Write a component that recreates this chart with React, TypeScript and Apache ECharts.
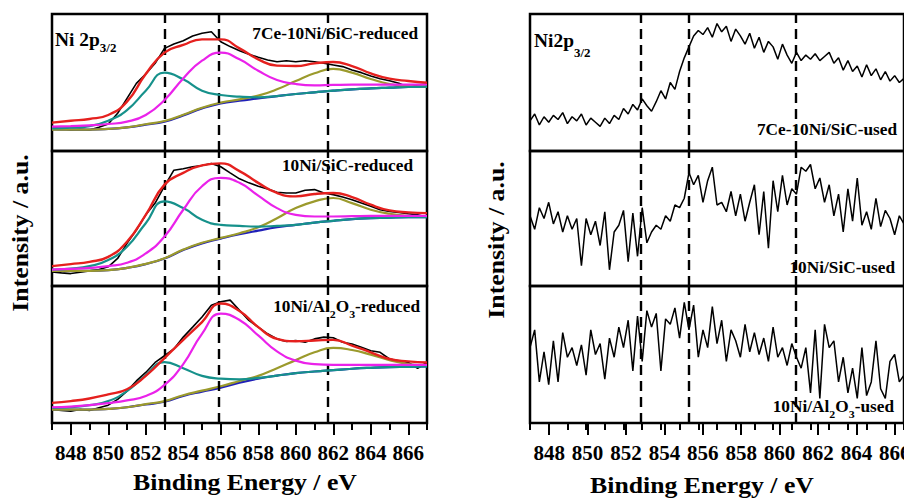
import React, { useEffect, useRef } from "react";
import * as echarts from "echarts";

const FONT = "'Liberation Serif', 'Times New Roman', serif";

// Binding energy grids (eV)
const X_MIN = 847;
const X_MAX = 867;
const X_FIT = [847, 848, 849, 850, 851, 852, 853, 854, 855, 856, 857, 858, 859, 860, 861, 862, 863, 864, 865, 866, 867];
const X_RAW = [847, 847.5, 848, 848.5, 849, 849.5, 850, 850.5, 851, 851.5, 852, 852.5, 853, 853.5, 854, 854.5, 855, 855.5, 856, 856.5, 857, 857.5, 858, 858.5, 859, 859.5, 860, 860.5, 861, 861.5, 862, 862.5, 863, 863.5, 864, 864.5, 865, 865.5, 866, 866.5, 867];
const X_USED = [847, 847.25, 847.5, 847.75, 848, 848.25, 848.5, 848.75, 849, 849.25, 849.5, 849.75, 850, 850.25, 850.5, 850.75, 851, 851.25, 851.5, 851.75, 852, 852.25, 852.5, 852.75, 853, 853.25, 853.5, 853.75, 854, 854.25, 854.5, 854.75, 855, 855.25, 855.5, 855.75, 856, 856.25, 856.5, 856.75, 857, 857.25, 857.5, 857.75, 858, 858.25, 858.5, 858.75, 859, 859.25, 859.5, 859.75, 860, 860.25, 860.5, 860.75, 861, 861.25, 861.5, 861.75, 862, 862.25, 862.5, 862.75, 863, 863.25, 863.5, 863.75, 864, 864.25, 864.5, 864.75, 865, 865.25, 865.5, 865.75, 866, 866.25, 866.5, 866.75, 867];

const TICK_LABELS = [848, 850, 852, 854, 856, 858, 860, 862, 864, 866];
const DASH_REDUCED = [853.0, 855.9, 861.7];
const DASH_USED = [852.9, 855.5, 861.2];

// 7Ce-10Ni/SiC-reduced
const RAW_A = [17.3, 16.5, 15.3, 15.8, 15.3, 17.3, 19.7, 27.5, 38.4, 49.4, 56.2, 64.0, 74.9, 78.1, 80.5, 83.9, 85.9, 87.1, 79.8, 76.2, 73.2, 70.6, 68.4, 66.4, 65.2, 65.9, 65.2, 65.9, 65.2, 64.0, 62.8, 61.6, 59.1, 57.2, 54.7, 52.8, 51.3, 49.4, 46.5, 48.2, 48.9];
const ENV_A = [20.7, 22.1, 23.4, 26.3, 36.0, 56.2, 71.8, 77.4, 81.5, 81.5, 74.9, 66.9, 62.3, 62.0, 64.0, 65.0, 62.0, 56.7, 52.8, 51.1, 49.9];
const P1_A = [16.5, 17.0, 18.2, 22.1, 29.9, 44.0, 57.2, 52.3, 44.0, 40.9, 39.7, 39.2, 40.1, 41.6, 42.8, 44.0, 45.0, 45.7, 46.2, 46.7, 47.0];
const P2_A = [17.8, 18.2, 18.7, 19.7, 21.4, 26.3, 37.2, 53.0, 65.9, 71.8, 66.9, 58.6, 51.8, 48.9, 47.9, 48.2, 48.4, 48.4, 48.4, 48.4, 48.7];
const SAT_A = [15.6, 15.6, 15.6, 16.1, 17.3, 19.5, 21.9, 26.5, 31.6, 35.3, 37.7, 40.4, 45.0, 51.1, 56.7, 59.9, 57.2, 52.6, 48.9, 47.4, 47.0];
const BG_A = [15.8, 15.6, 15.6, 16.1, 17.3, 19.2, 21.4, 26.0, 31.1, 34.8, 36.7, 38.4, 40.1, 41.6, 42.8, 44.0, 45.0, 45.7, 46.2, 46.7, 47.0];

// 10Ni/SiC-reduced
const RAW_B = [10.4, 9.7, 9.2, 10.2, 11.2, 12.2, 14.2, 20.4, 31.6, 41.5, 52.7, 61.4, 73.9, 85.8, 86.8, 88.3, 89.3, 90.8, 88.3, 83.8, 79.4, 76.4, 73.9, 71.9, 69.4, 68.9, 68.9, 70.9, 71.4, 68.9, 67.7, 65.9, 63.9, 61.4, 59.0, 56.5, 55.2, 54.5, 53.5, 52.7, 51.0];
const ENV_B = [14.7, 16.2, 17.9, 21.6, 32.8, 52.7, 75.1, 83.8, 89.3, 90.8, 85.1, 76.4, 68.9, 66.4, 68.2, 68.9, 65.9, 60.2, 56.0, 54.5, 54.0];
const P1_B = [12.2, 12.9, 14.7, 19.2, 29.1, 46.5, 62.7, 57.7, 49.0, 45.3, 44.5, 44.0, 44.5, 45.3, 47.0, 48.3, 49.5, 50.2, 50.7, 51.0, 51.0];
const P2_B = [12.2, 12.7, 13.4, 14.7, 17.2, 24.1, 36.6, 56.5, 73.9, 80.1, 76.4, 66.9, 57.7, 52.7, 51.5, 51.5, 51.7, 52.0, 52.0, 52.0, 52.0];
const SAT_B = [11.2, 11.2, 11.2, 11.7, 13.4, 16.4, 20.6, 27.0, 32.0, 35.6, 39.1, 43.5, 50.2, 57.7, 62.7, 65.2, 61.4, 56.5, 53.5, 52.0, 51.5];
const BG_B = [11.2, 11.2, 11.2, 11.7, 13.4, 16.2, 20.4, 26.6, 31.6, 35.1, 38.3, 41.0, 43.5, 45.3, 47.0, 48.3, 49.5, 50.2, 50.7, 51.0, 51.0];

// 10Ni/Al2O3-reduced
const RAW_C = [9.8, 9.1, 8.6, 9.8, 9.1, 11.1, 13.0, 17.2, 23.3, 30.7, 36.9, 44.2, 49.1, 54.1, 62.7, 70.0, 77.4, 86.0, 88.5, 89.7, 82.3, 74.9, 70.0, 65.1, 61.4, 59.5, 60.2, 59.0, 61.4, 62.7, 62.2, 59.0, 57.7, 55.3, 52.8, 51.6, 46.7, 45.5, 44.2, 40.0, 44.2];
const ENV_C = [14.7, 16.0, 17.9, 20.9, 24.6, 34.4, 47.4, 60.7, 73.7, 87.2, 81.8, 70.0, 61.4, 59.7, 60.2, 60.7, 56.5, 51.6, 46.7, 45.0, 44.2];
const P1_C = [11.1, 11.5, 13.0, 16.0, 23.3, 34.9, 44.5, 40.0, 34.4, 32.4, 31.9, 32.9, 34.6, 36.4, 37.6, 38.6, 39.6, 40.3, 40.8, 41.0, 41.3];
const P2_C = [11.5, 12.0, 13.0, 14.5, 16.5, 19.7, 27.8, 43.0, 65.1, 79.9, 75.2, 63.9, 52.3, 45.5, 43.0, 42.5, 42.5, 42.5, 42.5, 42.5, 42.5];
const SAT_C = [9.8, 9.8, 9.8, 10.3, 11.5, 13.8, 16.0, 20.3, 23.6, 26.8, 30.7, 34.4, 40.0, 45.9, 51.6, 54.8, 53.3, 49.9, 45.9, 43.0, 41.8];
const BG_C = [9.8, 9.8, 9.8, 10.3, 11.5, 13.5, 15.5, 19.7, 22.9, 25.8, 29.5, 32.4, 34.6, 36.4, 37.6, 38.6, 39.6, 40.3, 40.8, 41.0, 41.3];

// used samples (raw spectra)
const USED_A = [22, 27, 19, 25, 21, 26, 23, 28, 20, 25, 22, 27, 19, 24, 21, 18, 24, 20, 26, 23, 31, 27, 34, 30, 38, 33, 29, 36, 44, 38, 50, 45, 58, 68, 76, 84, 88, 85, 90, 83, 93, 87, 91, 80, 89, 84, 78, 86, 75, 83, 72, 80, 76, 67, 78, 70, 64, 72, 66, 70, 67, 71, 66, 69, 72, 64, 68, 59, 66, 58, 62, 54, 63, 55, 60, 52, 58, 51, 55, 50, 53];
const USED_B = [52, 42, 58, 50, 62, 46, 55, 40, 52, 42, 50, 15, 50, 38, 48, 30, 55, 12, 40, 45, 56, 18, 54, 22, 58, 32, 40, 45, 42, 52, 48, 60, 58, 65, 84, 75, 82, 62, 78, 88, 60, 62, 55, 70, 52, 68, 48, 62, 75, 38, 70, 28, 78, 55, 82, 60, 72, 68, 88, 85, 90, 72, 80, 62, 75, 52, 68, 40, 72, 48, 80, 45, 55, 42, 65, 44, 56, 50, 38, 52, 46];
const USED_C = [55, 68, 30, 52, 28, 60, 30, 66, 48, 55, 42, 57, 35, 68, 50, 58, 32, 62, 48, 70, 55, 75, 38, 78, 45, 82, 70, 80, 38, 76, 72, 84, 62, 88, 68, 86, 48, 68, 55, 85, 58, 75, 45, 68, 60, 48, 72, 52, 66, 50, 62, 45, 70, 48, 55, 42, 58, 48, 40, 55, 22, 68, 18, 72, 55, 60, 30, 48, 22, 40, 18, 55, 20, 30, 60, 25, 18, 45, 50, 30, 35];

const REDUCED_LABELS = ["{m|7Ce-10Ni/SiC-reduced}", "{m|10Ni/SiC-reduced}", "{m|10Ni/Al}{s|2}{m|O}{s|3}{m|-reduced}"];
const USED_LABELS = ["{m|7Ce-10Ni/SiC-used}", "{m|10Ni/SiC-used}", "{m|10Ni/Al}{s|2}{m|O}{s|3}{m|-used}"];
const X_TITLE = "Binding Energy / eV";
const Y_TITLE = "Intensity / a.u.";

const RED = "#e5201e";
const TEAL = "#16918b";
const MAGENTA = "#ea22ea";
const OLIVE = "#9b9a2c";
const BLUE = "#2020b8";

const TOPS = [14, 151, 286];
const HEIGHTS = [137, 135, 137];
const PANELS = [
  { left: 52, width: 375 },
  { left: 530, width: 384 },
];

const REDUCED = [
  { raw: RAW_A, env: ENV_A, p1: P1_A, p2: P2_A, sat: SAT_A, bg: BG_A },
  { raw: RAW_B, env: ENV_B, p1: P1_B, p2: P2_B, sat: SAT_B, bg: BG_B },
  { raw: RAW_C, env: ENV_C, p1: P1_C, p2: P2_C, sat: SAT_C, bg: BG_C },
];
const USED = [USED_A, USED_B, USED_C];

const NO_LABEL = { show: false, formatter: () => "" };

function richText(main: number, sub: number, subPad: number) {
  const base = { fontWeight: "bold", fontFamily: FONT, fill: "#000", verticalAlign: "top" };
  return {
    m: { ...base, fontSize: main, lineHeight: main + 2 },
    s: { ...base, fontSize: sub, lineHeight: sub + 1, padding: [subPad, 0, 0, 0] },
  };
}

function textEl(text: string, x: number, y: number, align: string, main: number, sub: number, subPad: number, scaleX: number, rotation = 0, vAlign = "top") {
  return {
    type: "text",
    x,
    y,
    scaleX,
    rotation,
    z: 100,
    style: { text, align, verticalAlign: vAlign, rich: richText(main, sub, subPad) },
  };
}

// x position of an energy on a panel's axis scale (same linear scale as its xAxis)
function scaleX(p: number, v: number) {
  return PANELS[p].left + ((v - X_MIN) / (X_MAX - X_MIN)) * PANELS[p].width;
}

function buildGraphics() {
  const tickTexts: any[] = [];
  for (let p = 0; p < 2; p++) {
    TICK_LABELS.forEach((v) => {
      tickTexts.push(textEl("{m|" + v + "}", scaleX(p, v), 442, "center", 21, 12, 0, 1));
    });
  }
  return [
    textEl("{m|Ni 2p}{s|3/2}", 55, 31, "left", 18, 12, 11, 1.08),
    textEl("{m|Ni2p}{s|3/2}", 534, 32, "left", 18, 12, 15, 1.08),
    ...REDUCED_LABELS.map((t, i) => textEl(t, [418, 413, 420][i], [26, 158, 298.5][i], "right", 16, 11, 10, 1.08)),
    ...USED_LABELS.map((t, i) => textEl(t, [897, 895, 894][i], [122, 260, 398.5][i], "right", 16, 11, 10, 1.08)),
    textEl("{m|" + X_TITLE + "}", 245, 470, "center", 23, 12, 0, 1.12),
    textEl("{m|" + X_TITLE + "}", 702, 473, "center", 23, 12, 0, 1.12),
    textEl("{m|" + Y_TITLE + "}", 8, 233, "center", 23, 12, 0, 1.12, Math.PI / 2),
    textEl("{m|" + Y_TITLE + "}", 484, 240, "center", 23, 12, 0, 1.12, Math.PI / 2),
    ...tickTexts,
  ];
}

function buildOption() {
  const grid: any[] = [];
  const xAxis: any[] = [];
  const yAxis: any[] = [];
  const series: any[] = [];

  const line = (xi: number, yi: number, xs: number[], ys: number[], color: string, width: number, smooth: boolean, z: number, extra: any = {}) => ({
    type: "line",
    xAxisIndex: xi,
    yAxisIndex: yi,
    data: xs.map((x, i) => [x, ys[i]]),
    symbol: "none",
    showSymbol: false,
    smooth,
    silent: true,
    z,
    lineStyle: { color, width },
    ...extra,
  });

  for (let p = 0; p < 2; p++) {
    for (let s = 0; s < 3; s++) {
      const g = grid.length;
      grid.push({
        left: PANELS[p].left,
        width: PANELS[p].width,
        top: TOPS[s],
        height: HEIGHTS[s],
        show: true,
        borderColor: "#000",
        borderWidth: 2.5,
        backgroundColor: "transparent",
      });
      yAxis.push({ gridIndex: g, type: "value", min: 0, max: 100, show: false, axisLabel: NO_LABEL });
      const xi = xAxis.length;
      xAxis.push({
        gridIndex: g,
        type: "value",
        min: X_MIN,
        max: X_MAX,
        interval: 1,
        position: "bottom",
        axisLine: { show: false },
        splitLine: { show: false },
        axisTick: { show: s === 2, length: 7, lineStyle: { color: "#000", width: 2 } },
        axisLabel: NO_LABEL,
      });
      const dashes = p === 0 ? DASH_REDUCED : DASH_USED;
      const markLine = {
        silent: true,
        symbol: ["none", "none"],
        label: { show: false },
        lineStyle: { type: [10, 6], color: "#000", width: 2.4 },
        data: dashes.map((v) => ({ xAxis: v })),
      };
      if (p === 0) {
        const d = REDUCED[s];
        series.push(line(xi, g, X_RAW, d.raw, "#000", 1.6, false, 2));
        series.push(line(xi, g, X_FIT, d.bg, BLUE, 2.2, true, 3));
        series.push(line(xi, g, X_FIT, d.sat, OLIVE, 2.2, true, 4));
        series.push(line(xi, g, X_FIT, d.p1, TEAL, 2.2, true, 5));
        series.push(line(xi, g, X_FIT, d.p2, MAGENTA, 2.2, true, 6));
        series.push(line(xi, g, X_FIT, d.env, RED, 2.4, true, 7, { markLine }));
      } else {
        series.push(line(xi, g, X_USED, USED[s], "#000", 1.5, false, 5, { markLine }));
      }
    }
    // overlay grid for the long (labelled) ticks: same pixel scale, range 848..866
    const step = PANELS[p].width / 20;
    const og = grid.length;
    grid.push({
      left: PANELS[p].left + step,
      width: PANELS[p].width - 2 * step,
      top: TOPS[2],
      height: HEIGHTS[2],
      show: false,
    });
    yAxis.push({ gridIndex: og, type: "value", min: 0, max: 100, show: false, axisLabel: NO_LABEL });
    xAxis.push({
      gridIndex: og,
      type: "value",
      min: 848,
      max: 866,
      interval: 2,
      position: "bottom",
      axisLine: { show: false },
      splitLine: { show: false },
      axisTick: { show: true, length: 12, lineStyle: { color: "#000", width: 2 } },
      axisLabel: NO_LABEL,
    });
  }

  return {
    animation: false,
    backgroundColor: "#fff",
    grid,
    xAxis,
    yAxis,
    series,
    graphic: buildGraphics(),
  };
}

export default function App() {
  const ref = useRef<HTMLDivElement>(null);
  useEffect(() => {
    if (!ref.current) return;
    const chart = echarts.init(ref.current, null, { renderer: "svg" });
    chart.setOption(buildOption() as any);
    return () => chart.dispose();
  }, []);
  return (
    <div
      ref={ref}
      style={{ position: "fixed", left: 0, top: 0, width: 904, height: 498, background: "#fff" }}
    />
  );
}
